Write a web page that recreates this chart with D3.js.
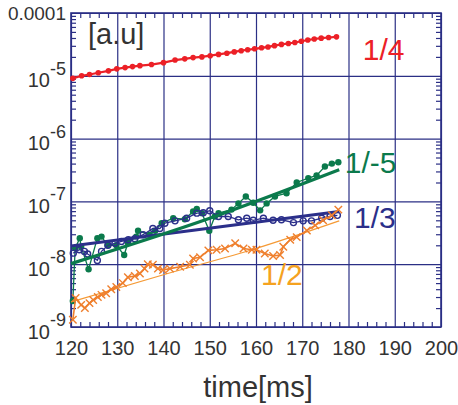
<!DOCTYPE html>
<html>
<head>
<meta charset="utf-8">
<script src="https://cdn.jsdelivr.net/npm/d3@7"></script>
<style>
  body { margin: 0; background: #fff; }
  text { font-family: "Liberation Sans", Arial, Helvetica, sans-serif; }
</style>
</head>
<body>
<div id="chart"></div>
<script>
// mode 1/4 (red)
const redTime = [120.4, 122.3, 124, 125.9, 128.1, 129.9, 131.7, 133.3, 134.9, 137.4, 140, 142.5, 144.6, 146.4, 148.3,
  150.1, 151.9, 153.7, 155.3, 156.8, 158.2, 159.7, 161.2, 162.6, 164, 165.5, 167, 168.4, 169.8, 171.2, 172.6, 174.1, 175.7, 177.4];
const redVal = [9.1e-6, 1.0e-5, 1.05e-5, 1.12e-5, 1.2e-5, 1.29e-5, 1.35e-5, 1.4e-5, 1.45e-5, 1.51e-5, 1.62e-5, 1.78e-5, 1.86e-5, 1.95e-5, 2.0e-5,
  2.09e-5, 2.19e-5, 2.29e-5, 2.4e-5, 2.51e-5, 2.6e-5, 2.69e-5, 2.79e-5, 2.88e-5, 3.02e-5, 3.16e-5, 3.27e-5, 3.39e-5, 3.55e-5, 3.72e-5, 3.85e-5, 3.98e-5, 4.07e-5, 4.17e-5];

// mode 1/-5 (green)
const greenTime = [120.4, 120.9, 121.9, 122.2, 123.8, 125.7, 126.6, 127.9, 129.8, 131.5, 132.3, 134.1, 134.5, 137, 138.2, 139.6, 142.1, 144.6,
  146.4, 147.2, 148.3, 149.9, 151.1, 151.9, 154.7, 156.2, 157.8, 159.4, 160.9, 162.3, 164.1, 166.6, 168.8, 171.3, 173.1, 174.9, 176.4, 177.8];
const greenVal = [2.6e-9, 1.8e-8, 2.6e-8, 1.9e-8, 8.3e-9, 2.6e-8, 2.75e-8, 2.0e-8, 2.0e-8, 1.4e-8, 2.2e-8, 2.75e-8, 3.4e-8, 2.95e-8, 3.4e-8, 4.5e-8, 5.4e-8, 5.2e-8,
  6.9e-8, 7.6e-8, 6.5e-8, 3.4e-8, 5.75e-8, 6.5e-8, 7.4e-8, 9.3e-8, 1.2e-7, 9.5e-8, 7.2e-8, 9.3e-8, 1.2e-7, 1.35e-7, 2.0e-7, 2.35e-7, 2.6e-7, 3.6e-7, 4.0e-7, 4.2e-7];
const greenFitTime = [120, 150, 178];
const greenFitVal = [1.02e-8, 5.4e-8, 3.2e-7];

// mode 1/3 (blue)
const blueTime = [120.5, 121.8, 122.9, 123.6, 125.7, 126.6, 128, 129.5, 130.9, 132.4, 133.8, 135.6, 137.7, 139.2, 140.3, 142.5, 145,
  147.2, 148.6, 150, 151.9, 154, 156.2, 158, 159.4, 161.6, 163.7, 165.5, 168.1, 170.2, 172, 174.2, 176, 177.6];
const blueVal = [1.5e-8, 1.7e-8, 1.6e-8, 1.45e-8, 1.15e-8, 1.6e-8, 2.0e-8, 2.15e-8, 2.3e-8, 2.45e-8, 2.55e-8, 2.95e-8, 3.7e-8, 3.7e-8, 4.5e-8, 4.9e-8, 5.4e-8,
  6.5e-8, 6.6e-8, 7.1e-8, 5.75e-8, 5.75e-8, 5.1e-8, 5.4e-8, 5.0e-8, 5.4e-8, 5.0e-8, 5.1e-8, 4.6e-8, 4.9e-8, 4.9e-8, 5.4e-8, 5.75e-8, 6.0e-8];
const blueFitTime = [120, 178];
const blueFitVal = [1.95e-8, 6.9e-8];

// mode 1/2 (orange)
const orangeTime = [120.4, 121, 122.2, 123, 124, 124.8, 125.8, 126.6, 127.6, 128.7, 129.8, 131.2, 132.3, 133.8, 134.9, 135.9, 136.6, 137.7,
  138.8, 139.9, 141.4, 143.6, 145.7, 146.4, 147.9, 149.7, 151.5, 153.3, 155.5, 157.3, 159.1, 160.1, 161.9, 163.7, 165.2, 165.9, 167.4,
  168.8, 171, 172.8, 174.5, 176.4, 177.8];
const orangeVal = [1.3e-9, 2.9e-9, 2.25e-9, 2.0e-9, 2.4e-9, 2.7e-9, 3.0e-9, 3.25e-9, 3.45e-9, 4.0e-9, 4.35e-9, 5.0e-9, 6.2e-9, 6.5e-9, 7.1e-9, 8.5e-9, 1.0e-8, 9.8e-9,
  8.5e-9, 8.1e-9, 8.5e-9, 9.1e-9, 9.8e-9, 1.23e-8, 1.29e-8, 1.66e-8, 1.7e-8, 1.78e-8, 2.15e-8, 1.78e-8, 1.7e-8, 1.7e-8, 1.48e-8, 1.35e-8, 1.4e-8, 1.9e-8, 2.45e-8,
  2.7e-8, 3.45e-8, 4.15e-8, 5.0e-8, 6.0e-8, 7.4e-8];
const orangeFitTime = [120, 140, 160, 178];
const orangeFitVal = [2.5e-9, 6.8e-9, 1.78e-8, 4.9e-8];

// axes
const xTicks = [120, 130, 140, 150, 160, 170, 180, 190, 200];
const yTicks = [1e-9, 1e-8, 1e-7, 1e-6, 1e-5, 1e-4];
const yTickLabels = ['10|-9', '10|-8', '10|-7', '10|-6', '10|-5', '0.0001'];

const W = 458, H = 405;
const margin = { top: 13, right: 17, bottom: 78, left: 71 };
const width = W - margin.left - margin.right;
const height = H - margin.top - margin.bottom;
const navy = '#2b2f85';

const svg = d3.select('#chart').append('svg')
  .attr('width', W)
  .attr('height', H);

const g = svg.append('g')
  .attr('transform', `translate(${margin.left},${margin.top})`);

const x = d3.scaleLinear().domain([120, 200]).range([0, width]);
const y = d3.scaleLog().domain([1e-9, 1e-4]).range([height, 0]);

// grid
g.append('g')
  .attr('transform', `translate(0,${height})`)
  .call(d3.axisBottom(x).tickValues(xTicks).tickSize(-height).tickFormat(''))
  .call(a => a.select('.domain').remove())
  .selectAll('line').attr('stroke', navy).attr('stroke-width', 1.2);
g.append('g')
  .call(d3.axisLeft(y).tickValues(yTicks).tickSize(-width).tickFormat(''))
  .call(a => a.select('.domain').remove())
  .selectAll('line').attr('stroke', navy).attr('stroke-width', 1.2);

// minor ticks, inward
const xMinor = d3.range(122, 200, 2).filter(v => v % 10 !== 0);
const yMinor = [];
for (let e = -9; e < -4; e++) for (let m = 2; m <= 9; m++) yMinor.push(m * Math.pow(10, e));

function minor(sel) {
  sel.call(a => a.select('.domain').remove())
    .selectAll('line').attr('stroke', navy).attr('stroke-width', 1.2);
}
g.append('g').attr('transform', `translate(0,${height})`)
  .call(d3.axisBottom(x).tickValues(xMinor).tickSize(-5).tickFormat('')).call(minor);
g.append('g')
  .call(d3.axisTop(x).tickValues(xMinor).tickSize(-5).tickFormat('')).call(minor);
g.append('g')
  .call(d3.axisLeft(y).tickValues(yMinor).tickSize(-5).tickFormat('')).call(minor);
g.append('g').attr('transform', `translate(${width},0)`)
  .call(d3.axisRight(y).tickValues(yMinor).tickSize(-5).tickFormat('')).call(minor);

// frame
g.append('rect')
  .attr('width', width)
  .attr('height', height)
  .attr('fill', 'none')
  .attr('stroke', navy)
  .attr('stroke-width', 1.6);

// tick labels
const xAxis = g.append('g')
  .attr('transform', `translate(0,${height})`)
  .call(d3.axisBottom(x).tickValues(xTicks).tickSize(0).tickPadding(14).tickFormat(d3.format('d')));
xAxis.select('.domain').remove();
xAxis.selectAll('text').attr('font-size', 20).attr('fill', '#333')
  .attr('font-family', '"Liberation Sans", Arial, sans-serif');

const yAxis = g.append('g')
  .call(d3.axisLeft(y).tickValues(yTicks).tickSize(0).tickPadding(5).tickFormat(''));
yAxis.select('.domain').remove();
yAxis.selectAll('.tick text')
  .attr('font-size', 19).attr('fill', '#333').attr('dy', '0.35em')
  .attr('font-family', '"Liberation Sans", Arial, sans-serif')
  .each(function (d, i) {
    const t = d3.select(this);
    const parts = yTickLabels[i].split('|');
    if (parts.length === 1) {
      t.text(parts[0]);
    } else {
      t.attr('dy', '0.55em').attr('font-size', 20);
      t.append('tspan').text(parts[0]);
      t.append('tspan').attr('font-size', 18).attr('dy', '-0.7em').text(parts[1]);
    }
  });

// series
const line = d3.line().x(d => x(d[0])).y(d => y(d[1]));
const pairs = (t, v) => t.map((d, i) => [d, v[i]]);

const red = '#ec2027', green = '#0b7a4c', blue = '#2b2f8a', orange = '#ef7f2d', orangeFit = '#f59a35';

// 1/4
const redData = pairs(redTime, redVal);
g.append('path').datum(redData).attr('d', line)
  .attr('fill', 'none').attr('stroke', red).attr('stroke-width', 2.2);
g.selectAll('.red-dot').data(redData).enter().append('circle')
  .attr('cx', d => x(d[0])).attr('cy', d => y(d[1])).attr('r', 2.8).attr('fill', red);

// 1/-5
const greenData = pairs(greenTime, greenVal);
g.append('path').datum(greenData).attr('d', line)
  .attr('fill', 'none').attr('stroke', green).attr('stroke-width', 1.3);
g.selectAll('.green-dot').data(greenData).enter().append('circle')
  .attr('cx', d => x(d[0])).attr('cy', d => y(d[1])).attr('r', 3.2).attr('fill', green);

// 1/3
const blueData = pairs(blueTime, blueVal);
g.append('path').datum(blueData).attr('d', line)
  .attr('fill', 'none').attr('stroke', blue).attr('stroke-width', 1.3);
g.selectAll('.blue-dot').data(blueData).enter().append('circle')
  .attr('cx', d => x(d[0])).attr('cy', d => y(d[1])).attr('r', 3)
  .attr('fill', 'none').attr('stroke', blue).attr('stroke-width', 1.4);
g.append('path').datum(pairs(blueFitTime, blueFitVal)).attr('d', line)
  .attr('fill', 'none').attr('stroke', blue).attr('stroke-width', 3.2);

// green fit drawn over blue
g.append('path').datum(pairs(greenFitTime, greenFitVal)).attr('d', d3.line().curve(d3.curveMonotoneX).x(d => x(d[0])).y(d => y(d[1])))
  .attr('fill', 'none').attr('stroke', green).attr('stroke-width', 3.2);

// 1/2
const orangeData = pairs(orangeTime, orangeVal);
g.append('path').datum(pairs(orangeFitTime, orangeFitVal)).attr('d', d3.line().curve(d3.curveMonotoneX).x(d => x(d[0])).y(d => y(d[1])))
  .attr('fill', 'none').attr('stroke', orangeFit).attr('stroke-width', 1.2);
g.append('path').datum(orangeData).attr('d', line)
  .attr('fill', 'none').attr('stroke', orange).attr('stroke-width', 1.6);
g.selectAll('.orange-x').data(orangeData).enter().append('path')
  .attr('transform', d => `translate(${x(d[0])},${y(d[1])})`)
  .attr('d', d3.symbol(d3.symbolTimes, 38))
  .attr('fill', 'none').attr('stroke', orange).attr('stroke-width', 1.4);

// labels
const labels = [
  { text: '1/4', t: 183.1, v: 1.78e-5, color: red },
  { text: '1/-5', t: 179.2, v: 2.83e-7, color: green },
  { text: '1/3', t: 181.2, v: 3.8e-8, color: blue },
  { text: '1/2', t: 161.1, v: 4.7e-9, color: '#f5a21f' }
];
g.selectAll('.lbl').data(labels).enter().append('text')
  .attr('x', d => x(d.t)).attr('y', d => y(d.v))
  .attr('font-size', 30).attr('fill', d => d.color)
  .text(d => d.text);

g.append('text')
  .attr('x', 17).attr('y', 31)
  .attr('font-size', 29).attr('fill', '#333')
  .text('[a.u]');

svg.append('text')
  .attr('x', 258).attr('y', 397)
  .attr('text-anchor', 'middle')
  .attr('font-size', 29).attr('fill', '#333')
  .text('time[ms]');
</script>
</body>
</html>
